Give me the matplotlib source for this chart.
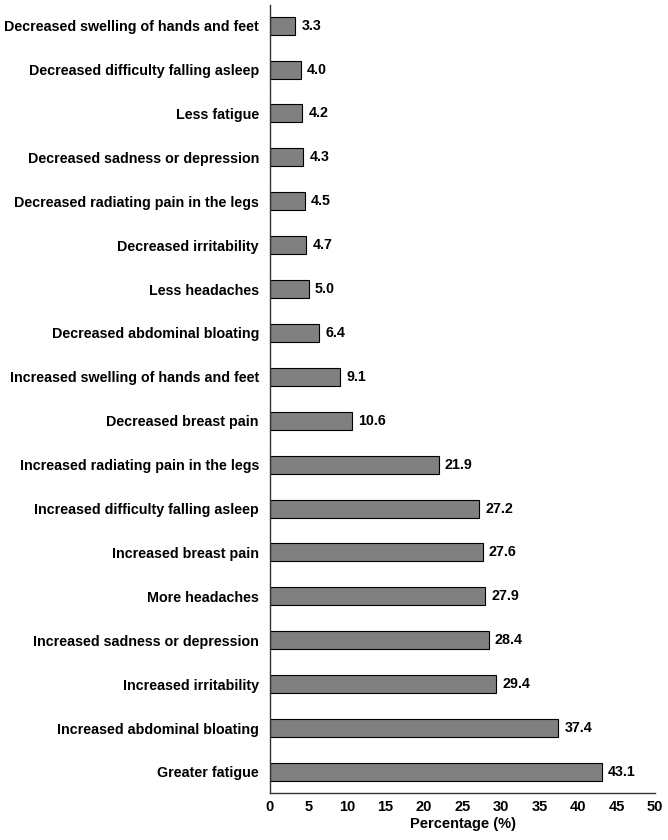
import matplotlib
matplotlib.use('Agg')
from matplotlib import pyplot as plt

labels = [
    'Decreased swelling of hands and feet',
    'Decreased difficulty falling asleep',
    'Less fatigue',
    'Decreased sadness or depression',
    'Decreased radiating pain in the legs',
    'Decreased irritability',
    'Less headaches',
    'Decreased abdominal bloating',
    'Increased swelling of hands and feet',
    'Decreased breast pain',
    'Increased radiating pain in the legs',
    'Increased difficulty falling asleep',
    'Increased breast pain',
    'More headaches',
    'Increased sadness or depression',
    'Increased irritability',
    'Increased abdominal bloating',
    'Greater fatigue',
]
values = [3.3, 4.0, 4.2, 4.3, 4.5, 4.7, 5.0, 6.4, 9.1, 10.6,
          21.9, 27.2, 27.6, 27.9, 28.4, 29.4, 37.4, 43.1]
xticks = list(range(0, 55, 5))

plt.rcParams['font.family'] = ['Liberation Sans', 'DejaVu Sans']
plt.rcParams['font.weight'] = 'bold'

fig = plt.figure(figsize=(6.68, 8.4), dpi=100)
# axes box in figure fractions: left spine at x=270px, bottom spine at y=793px
ax = fig.add_axes([270 / 668, 47 / 840, 385 / 668, 788 / 840])

pos = list(range(len(values)))
ax.barh(pos, values, height=0.41, color='#808080', edgecolor='black', linewidth=0.8)
for y, v in zip(pos, values):
    ax.annotate(f'{v:.1f}', (v, y), xytext=(4.5, 0), textcoords='offset points',
                va='center', ha='left', fontsize=10.3, fontweight='bold')

ax.set_yticks(pos)
ax.set_yticklabels(labels, fontsize=10.3, fontweight='bold')
ax.set_ylim(17.48, -0.47)
ax.set_xlim(0, 50)
ax.set_xticks(xticks)
ax.set_xticklabels([str(t) for t in xticks], fontsize=10.5, fontweight='bold')
ax.tick_params(length=0)
ax.tick_params(axis='y', pad=8)
ax.tick_params(axis='x', pad=5)
ax.set_xlabel('Percentage (%)', fontsize=10.5, fontweight='bold', labelpad=2)
for side in ['top', 'right']:
    ax.spines[side].set_visible(False)
ax.spines['left'].set_linewidth(1.0)
ax.spines['bottom'].set_linewidth(1.0)
ax.spines['left'].set_color('#333333')
ax.spines['bottom'].set_color('#333333')

fig.savefig('out.png', dpi=100)
